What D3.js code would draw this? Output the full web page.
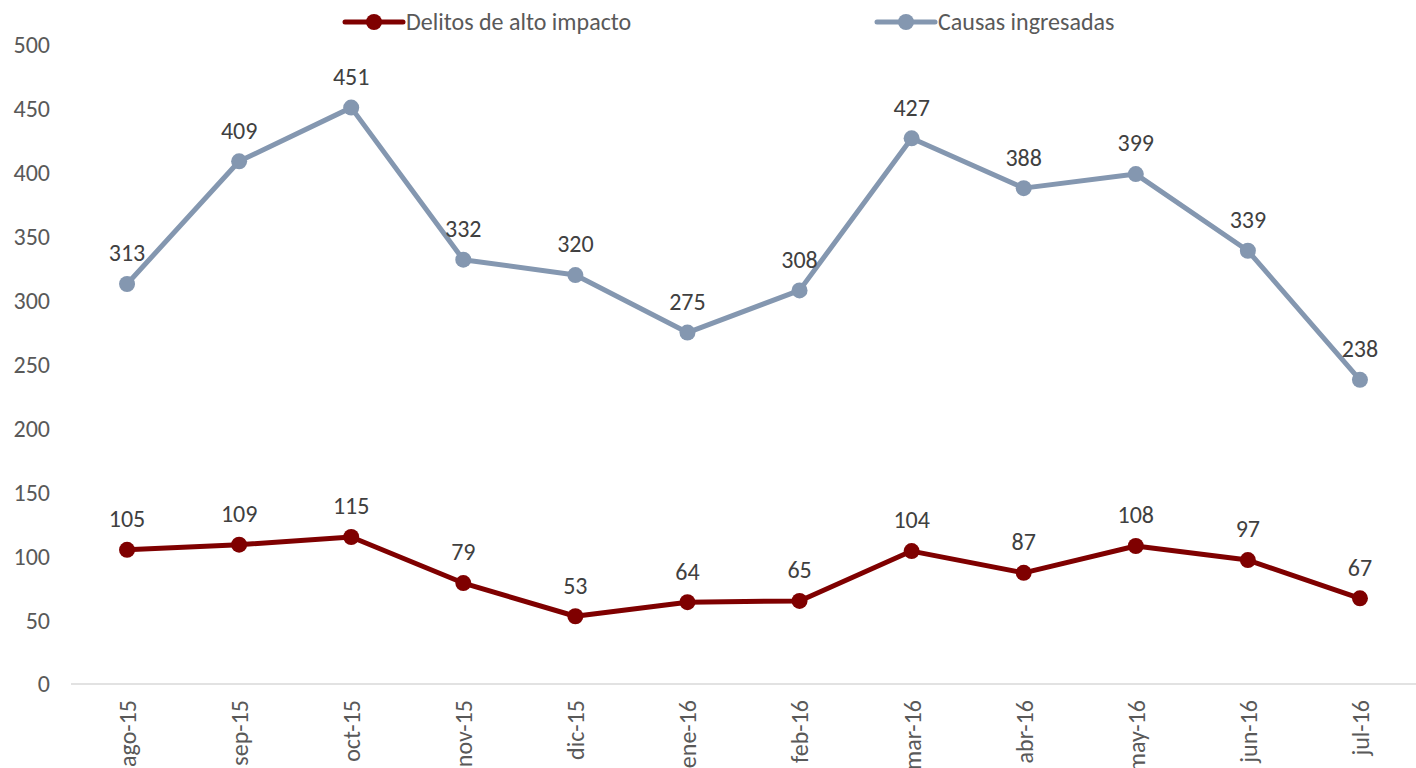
<!DOCTYPE html>
<html>
<head>
<meta charset="utf-8">
<script src="https://cdn.jsdelivr.net/npm/d3@7"></script>
<style>
  body { margin: 0; background: #fff; }
  text { font-family: Carlito, Lato, sans-serif; }
</style>
</head>
<body>
<div id="chart"></div>
<script>
var months = ["ago-15", "sep-15", "oct-15", "nov-15", "dic-15", "ene-16", "feb-16", "mar-16", "abr-16", "may-16", "jun-16", "jul-16"];
var delitos = [105, 109, 115, 79, 53, 64, 65, 104, 87, 108, 97, 67];
var causas = [313, 409, 451, 332, 320, 275, 308, 427, 388, 399, 339, 238];
var yTicks = [0, 50, 100, 150, 200, 250, 300, 350, 400, 450, 500];

var W = 1416, H = 768;
var margin = {top: 45, right: 0, bottom: 84, left: 71},
    width = W - margin.left - margin.right,
    height = H - margin.top - margin.bottom;

var svg = d3.select("#chart").append("svg").attr("width", W).attr("height", H),
    g = svg.append("g").attr("transform", "translate(" + margin.left + "," + margin.top + ")");

var x = d3.scalePoint().domain(months).range([0, width]).padding(0.5);
var y = d3.scaleLinear().domain([0, 500]).range([height, 0]);

// y tick labels (no axis line)
g.append("g")
  .selectAll("text")
  .data(yTicks)
  .enter().append("text")
    .attr("x", -21)
    .attr("y", function(d) { return y(d); })
    .attr("dy", "0.35em")
    .attr("text-anchor", "end")
    .attr("fill", "#595959")
    .attr("font-size", 24)
    .text(function(d) { return d; });

// x axis
var xAxis = g.append("g")
    .attr("transform", "translate(0," + height + ")")
    .call(d3.axisBottom(x).tickSize(0).tickPadding(0));
xAxis.select(".domain").attr("stroke", "#d9d9d9").attr("stroke-width", 1.5)
  .attr("d", "M0,0H" + width);
xAxis.selectAll("text")
    .attr("font-size", 24)
    .attr("font-family", "Carlito, Lato, sans-serif")
    .attr("fill", "#595959")
    .attr("text-anchor", "end")
    .attr("dy", "0.35em")
    .attr("transform", "translate(0,16) rotate(-90)")
    .attr("y", 0)
    .attr("x", 0);

var series = [
  {name: "Delitos de alto impacto", values: delitos, color: "#7f0000"},
  {name: "Causas ingresadas", values: causas, color: "#8497b0"}
];

var line = d3.line()
  .x(function(d, i) { return x(months[i]); })
  .y(function(d) { return y(d); });

series.forEach(function(s) {
  g.append("path")
    .datum(s.values)
    .attr("fill", "none")
    .attr("stroke", s.color)
    .attr("stroke-width", 5)
    .attr("stroke-linejoin", "round")
    .attr("d", line);

  g.append("g").selectAll("circle")
    .data(s.values)
    .enter().append("circle")
      .attr("cx", function(d, i) { return x(months[i]); })
      .attr("cy", function(d) { return y(d); })
      .attr("r", 8)
      .attr("fill", s.color);

  g.append("g").selectAll("text")
    .data(s.values)
    .enter().append("text")
      .attr("x", function(d, i) { return x(months[i]); })
      .attr("y", function(d) { return y(d) - 31; })
      .attr("dy", "0.35em")
      .attr("text-anchor", "middle")
      .attr("fill", "#404040")
      .attr("font-size", 24)
      .text(function(d) { return d; });
});

// legend
var legendX = [345, 877];
var legend = svg.append("g");
series.forEach(function(s, i) {
  var lg = legend.append("g").attr("transform", "translate(" + legendX[i] + ",22)");
  lg.append("line").attr("x1", 0).attr("x2", 58).attr("y1", 0).attr("y2", 0)
    .attr("stroke", s.color).attr("stroke-width", 5).attr("stroke-linecap", "round");
  lg.append("circle").attr("cx", 29).attr("cy", 0).attr("r", 8).attr("fill", s.color);
  lg.append("text").attr("x", 61).attr("y", 0).attr("dy", "0.35em")
    .attr("fill", "#595959").attr("font-size", 24).text(s.name);
});
</script>
</body>
</html>
